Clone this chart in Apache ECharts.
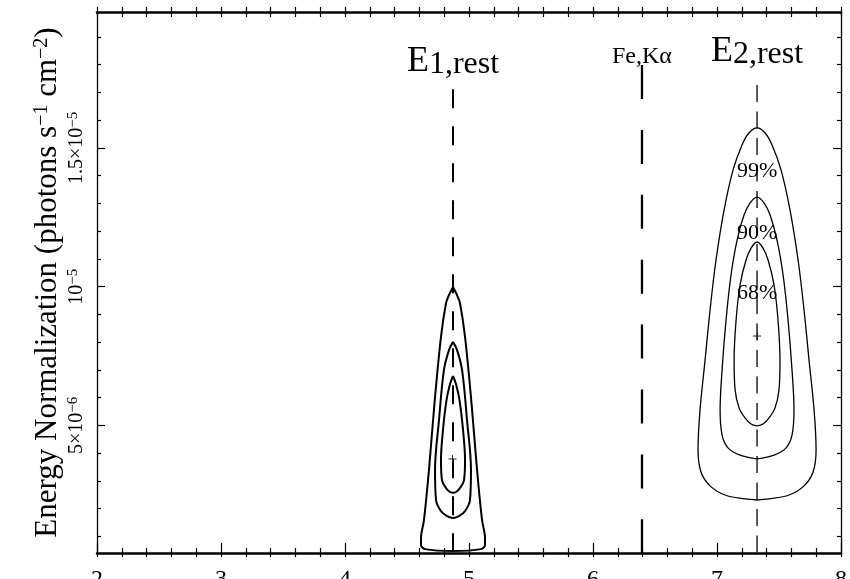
<!DOCTYPE html>
<html>
<head>
<meta charset="utf-8">
<script src="https://cdn.jsdelivr.net/npm/echarts@6/dist/echarts.min.js"></script>
<style>
  html, body { margin: 0; padding: 0; background: #fff; }
  #chart { width: 850px; height: 579px; }
</style>
</head>
<body>
<div id="chart"></div>
<script>
// Rest-frame line energy (keV) against line normalization,
// normalization kept in units of 1e-6 photons s^-1 cm^-2.
const energyTicks = [2, 3, 4, 5, 6, 7, 8];
const normTickValues = [5, 10, 15];
const normTickLabels = [['5×10', '−6'], ['10', '−5'], ['1.5×10', '−5']];
const normMinorTicks = [1, 2, 3, 4, 6, 7, 8, 9, 11, 12, 13, 14, 16, 17, 18, 19];

// Reference line energies and where their dashed markers stop at the top
const lineNames = [['E', '1,rest'], ['Fe,Kα'], ['E', '2,rest']];
const lineEnergies = [4.871, 6.395, 7.323];
const lineTops = [17.12, 17.99, 17.27];

// Best-fit points
const e1Best = [4.867, 3.79];
const e2Best = [7.323, 8.22];

// Confidence contours for the first line (68, 90, 99 %)
const e1c68 = [[4.871,6.78],[4.895,6.49],[4.923,5.92],[4.952,4.83],[4.968,3.75],[4.960,3.03],[4.927,2.74],[4.895,2.60],[4.871,2.57],[4.847,2.60],[4.815,2.74],[4.782,3.03],[4.774,3.75],[4.790,4.83],[4.819,5.92],[4.847,6.49],[4.871,6.78]];
const e1c90 = [[4.871,8.01],[4.903,7.72],[4.944,7.00],[4.984,5.19],[5.016,3.39],[5.008,2.31],[4.968,1.91],[4.919,1.73],[4.871,1.66],[4.823,1.73],[4.774,1.91],[4.734,2.31],[4.726,3.39],[4.758,5.19],[4.798,7.00],[4.839,7.72],[4.871,8.01]];
const e1c99 = [[4.871,9.99],[4.903,9.70],[4.927,9.41],[4.968,8.19],[5.020,5.81],[5.065,3.39],[5.105,1.59],[5.129,0.94],[5.129,0.69],[5.097,0.54],[4.871,0.47],[4.645,0.54],[4.613,0.69],[4.613,0.94],[4.637,1.59],[4.677,3.39],[4.722,5.81],[4.774,8.19],[4.815,9.41],[4.839,9.70],[4.871,9.99]];

// Confidence contours for the second line
const e2c68 = [[7.323,4.98],[7.371,5.05],[7.420,5.27],[7.468,5.63],[7.500,6.28],[7.508,7.36],[7.492,8.80],[7.460,10.06],[7.412,10.96],[7.371,11.39],[7.323,11.61],[7.275,11.39],[7.234,10.96],[7.186,10.06],[7.154,8.80],[7.138,7.36],[7.146,6.28],[7.178,5.63],[7.226,5.27],[7.275,5.05],[7.323,4.98]];
const e2c90 = [[7.323,3.79],[7.460,3.93],[7.557,4.19],[7.605,4.65],[7.621,5.55],[7.605,7.00],[7.573,8.80],[7.533,10.42],[7.484,11.68],[7.428,12.58],[7.379,13.02],[7.323,13.23],[7.267,13.02],[7.218,12.58],[7.162,11.68],[7.113,10.42],[7.073,8.80],[7.041,7.00],[7.025,5.55],[7.041,4.65],[7.089,4.19],[7.186,3.93],[7.323,3.79]];
const e2c99 = [[7.323,2.31],[7.420,2.35],[7.581,2.49],[7.702,2.82],[7.775,3.32],[7.799,4.11],[7.783,5.55],[7.742,7.36],[7.702,9.16],[7.654,10.96],[7.589,12.76],[7.517,14.20],[7.444,15.11],[7.388,15.54],[7.323,15.72],[7.258,15.54],[7.202,15.11],[7.129,14.20],[7.057,12.76],[6.992,10.96],[6.944,9.16],[6.904,7.36],[6.863,5.55],[6.847,4.11],[6.871,3.32],[6.944,2.82],[7.065,2.49],[7.226,2.35],[7.323,2.31]];

// Confidence level names and the normalization where each is written
const levelNames = ['68%', '90%', '99%'];
const levelLabelNorm = [9.77, 11.93, 14.17];

const FONT = 'Liberation Serif, Times New Roman, serif';
const INK = '#000';
const NORM_MIN = 0.4, NORM_MAX = 19.9;

const chart = echarts.init(document.getElementById('chart'), null, { renderer: 'canvas' });

function xAxisDef(pos, inside, len, minorLen, showLine, showLabel) {
  return {
    type: 'value', gridIndex: 0, position: pos,
    min: energyTicks[0], max: energyTicks[energyTicks.length - 1], interval: 1,
    axisLine: { show: showLine, onZero: false, lineStyle: { color: INK, width: 2.5 } },
    axisTick: { show: true, inside: inside, length: len, lineStyle: { color: INK, width: 1.2 } },
    minorTick: { show: true, splitNumber: 5, length: minorLen, lineStyle: { color: INK, width: 1.2 } },
    axisLabel: {
      show: showLabel, margin: 15, color: INK, fontFamily: FONT, fontSize: 24,
      showMinLabel: true, showMaxLabel: true, hideOverlap: false
    },
    splitLine: { show: false }, minorSplitLine: { show: false }
  };
}

function yAxisDef(pos, values, len, showLine, withLabels) {
  const ax = {
    type: 'value', gridIndex: 0, position: pos, min: NORM_MIN, max: NORM_MAX,
    axisLine: { show: showLine, onZero: false, lineStyle: { color: INK, width: 1.3 } },
    axisTick: { show: true, inside: true, length: len, customValues: values, lineStyle: { color: INK, width: 1.2 } },
    axisLabel: { show: false },
    splitLine: { show: false }
  };
  if (withLabels) {
    ax.axisLabel = {
      show: true, customValues: normTickValues, rotate: 90, margin: 10,
      color: INK, fontFamily: FONT, fontSize: 20,
      formatter: function (v) {
        const i = normTickValues.indexOf(v);
        if (i < 0) return '';
        return '{m|' + normTickLabels[i][0] + '}{e|' + normTickLabels[i][1] + '}';
      },
      rich: {
        m: { fontFamily: FONT, fontSize: 20, color: INK, lineHeight: 21 },
        e: { fontFamily: FONT, fontSize: 15, color: INK, lineHeight: 15, verticalAlign: 'top' }
      }
    };
    ax.name = 'Energy Normalization (photons s{e|−1} cm{e|−2})';
    ax.nameLocation = 'middle';
    ax.nameRotate = 90;
    ax.nameGap = 34;
    ax.nameMoveOverlap = false;
    ax.nameTextStyle = {
      fontFamily: FONT, fontSize: 31, color: INK,
      rich: { e: { fontFamily: FONT, fontSize: 20, color: INK, lineHeight: 20, verticalAlign: 'top' } }
    };
  }
  return ax;
}

function contour(data, width) {
  return {
    type: 'line', data: data, smooth: 0.35, showSymbol: false, symbol: 'none',
    lineStyle: { color: INK, width: width }, silent: true, z: 3, clip: false
  };
}

const dashPatterns = [[19, 18], [34, 30.9], [17, 9.5]];
const dashWidths = [2, 2.3, 1.3];
const dashSeries = lineEnergies.map(function (e, i) {
  return {
    type: 'line', data: [[e, lineTops[i]], [e, NORM_MIN]], showSymbol: false, symbol: 'none',
    lineStyle: { color: INK, width: dashWidths[i], type: dashPatterns[i] }, silent: true, z: 2
  };
});

// Text placed above each dashed marker
const lineLabelNorm = [18.10, 18.28, 18.44];
const lineLabelData = lineEnergies.map(function (e, i) {
  const n = lineNames[i];
  const txt = n.length === 2 ? '{e|' + n[0] + '}{s|' + n[1] + '}' : '{f|' + n[0] + '}';
  return { value: [e, lineLabelNorm[i]], label: { formatter: txt } };
});

const option = {
  animation: false,
  backgroundColor: '#fff',
  textStyle: { fontFamily: FONT },
  grid: { left: 97, right: 9, top: 12, bottom: 26, containLabel: false, outerBoundsMode: 'none' },
  xAxis: [
    xAxisDef('bottom', true, 10, 5, true, true),
    xAxisDef('bottom', false, 4, 4, false, false),
    xAxisDef('top', true, 5, 5, true, false),
    xAxisDef('top', false, 5, 5, false, false)
  ],
  yAxis: [
    yAxisDef('left', normTickValues, 8, true, true),
    yAxisDef('left', normMinorTicks, 4, false, false),
    yAxisDef('right', normTickValues, 8, true, false),
    yAxisDef('right', normMinorTicks, 4, false, false)
  ],
  series: [
    contour(e1c68, 2), contour(e1c90, 2), contour(e1c99, 2),
    contour(e2c68, 1.3), contour(e2c90, 1.3), contour(e2c99, 1.3)
  ].concat(dashSeries).concat([
    {
      type: 'scatter', data: [e1Best, e2Best], symbol: 'path://M0,5L10,5M5,0L5,10', symbolSize: 8,
      itemStyle: { color: 'rgba(0,0,0,0)', borderColor: '#222', borderWidth: 1, opacity: 1 }, silent: true, z: 4
    },
    {
      type: 'scatter', data: levelNames.map(function (t, i) { return { value: [lineEnergies[2], levelLabelNorm[i]], name: t }; }),
      symbolSize: 0, silent: true, z: 5, itemStyle: { opacity: 1 },
      label: { show: true, position: 'inside', formatter: '{b}', color: INK, fontFamily: FONT, fontSize: 22 }
    },
    {
      type: 'scatter', data: lineLabelData, symbolSize: 0, silent: true, z: 5, itemStyle: { opacity: 1 },
      label: {
        show: true, position: 'inside', color: INK, fontFamily: FONT,
        rich: {
          e: { fontFamily: FONT, fontSize: 36, color: INK, lineHeight: 37, verticalAlign: 'top' },
          s: { fontFamily: FONT, fontSize: 32, color: INK, lineHeight: 13, verticalAlign: 'bottom' },
          f: { fontFamily: FONT, fontSize: 24, color: INK, lineHeight: 24 }
        }
      }
    }
  ])
};

chart.setOption(option);
</script>
</body>
</html>
